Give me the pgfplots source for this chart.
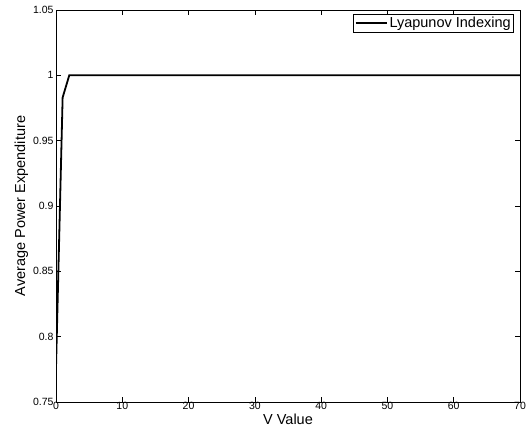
\documentclass[border=0pt]{standalone}
\usepackage{fontspec}
\setmainfont{Liberation Sans}
\usepackage{pgfplots}
\pgfplotsset{compat=1.18}
\begin{document}
\begin{tikzpicture}
\begin{axis}[
  name=ax,
  scale only axis,
  width=464pt, height=392pt,
  xmin=0, xmax=70, ymin=0.75, ymax=1.05,
  xtick={0,10,...,70},
  ytick={0.75,0.8,...,1.05},
  yticklabels={0.75,0.8,0.85,0.9,0.95,1,1.05},
  tick align=inside,
  major tick length=5pt,
  tick style={black, line width=0.6pt},
  axis line style={line width=0.8pt},
  tick label style={font=\fontsize{10.5}{12}\selectfont},
  xticklabel style={yshift=3pt},
  yticklabel style={xshift=1pt},
  /pgf/number format/assume math mode=true,
  xlabel={V Value},
  ylabel={Average Power Expenditure},
  label style={font=\fontsize{14.5}{16}\selectfont},
  xlabel style={yshift=3pt},
  ylabel style={yshift=-2pt},
  legend style={at={(1,1)}, xshift=-6pt, yshift=-4pt, anchor=north east,
    draw=black, line width=0.6pt,
    font=\fontsize{14.5}{16}\selectfont, inner sep=1pt},
  legend cell align=left,
  legend image code/.code={\draw[#1, line width=1.8pt] (0pt,0pt) -- (31pt,0pt);},
]
\addplot[black, line width=1.8pt] coordinates {
  (0,0.776) (1,0.983) (2,1.0) (3,1.0) (10,1.0) (20,1.0) (30,1.0)
  (40,1.0) (50,1.0) (60,1.0) (70,1.0)
};
\addlegendentry{Lyapunov Indexing}
\end{axis}
\pgfresetboundingbox
\path ([shift={(-56pt,-32pt)}]ax.south west) rectangle ([shift={(10pt,10pt)}]ax.north east);
\end{tikzpicture}
\end{document}
